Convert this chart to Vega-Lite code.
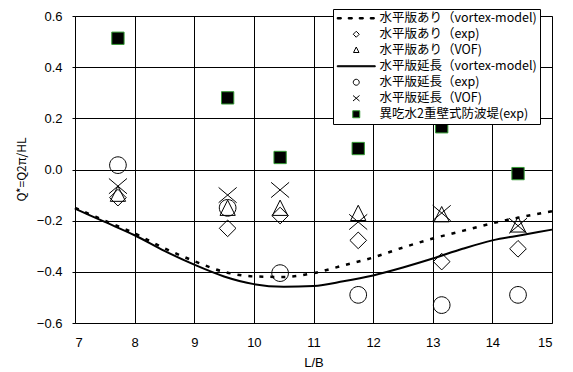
{
  "$schema": "https://vega.github.io/schema/vega-lite/v6.json",
  "width": 477,
  "height": 307,
  "autosize": {"type": "none"},
  "padding": {"left": 75, "top": 16, "right": 21, "bottom": 49},
  "background": "white",
  "config": {
    "view": {"stroke": "#808080", "strokeWidth": 1},
    "axis": {
      "grid": true,
      "gridColor": "#000",
      "gridWidth": 1,
      "domain": false,
      "labelFont": "Liberation Sans",
      "labelFontSize": 13,
      "labelColor": "#000",
      "titleFont": "Liberation Sans",
      "titleFontSize": 13,
      "titleFontWeight": "normal",
      "titleColor": "#000"
    },
    "legend": {
      "orient": "none",
      "legendX": 258,
      "legendY": -7,
      "padding": 3,
      "strokeColor": "#000",
      "fillColor": "#fff",
      "labelFont": "Noto Sans CJK JP",
      "labelFontSize": 12.5,
      "labelColor": "#000",
      "symbolSize": 100,
      "symbolOffset": 14,
      "labelOffset": 17,
      "rowPadding": 3,
      "symbolStrokeWidth": 1,
      "labelLimit": 300,
      "cornerRadius": 0
    }
  },
  "datasets": {
    "lines": [
      {"series": "水平版あり（vortex-model)", "LB": 7, "Q": -0.15},
      {"series": "水平版あり（vortex-model)", "LB": 7.5, "Q": -0.2},
      {"series": "水平版あり（vortex-model)", "LB": 8, "Q": -0.25},
      {"series": "水平版あり（vortex-model)", "LB": 8.5, "Q": -0.308},
      {"series": "水平版あり（vortex-model)", "LB": 9, "Q": -0.358},
      {"series": "水平版あり（vortex-model)", "LB": 9.5, "Q": -0.4},
      {"series": "水平版あり（vortex-model)", "LB": 10, "Q": -0.418},
      {"series": "水平版あり（vortex-model)", "LB": 10.5, "Q": -0.42},
      {"series": "水平版あり（vortex-model)", "LB": 11, "Q": -0.405},
      {"series": "水平版あり（vortex-model)", "LB": 11.5, "Q": -0.375},
      {"series": "水平版あり（vortex-model)", "LB": 12, "Q": -0.344},
      {"series": "水平版あり（vortex-model)", "LB": 12.5, "Q": -0.305},
      {"series": "水平版あり（vortex-model)", "LB": 13, "Q": -0.27},
      {"series": "水平版あり（vortex-model)", "LB": 13.5, "Q": -0.24},
      {"series": "水平版あり（vortex-model)", "LB": 14, "Q": -0.21},
      {"series": "水平版あり（vortex-model)", "LB": 14.5, "Q": -0.185},
      {"series": "水平版あり（vortex-model)", "LB": 15, "Q": -0.163},
      {"series": "水平版延長（vortex-model)", "LB": 7, "Q": -0.153},
      {"series": "水平版延長（vortex-model)", "LB": 7.5, "Q": -0.205},
      {"series": "水平版延長（vortex-model)", "LB": 8, "Q": -0.257},
      {"series": "水平版延長（vortex-model)", "LB": 8.5, "Q": -0.318},
      {"series": "水平版延長（vortex-model)", "LB": 9, "Q": -0.372},
      {"series": "水平版延長（vortex-model)", "LB": 9.5, "Q": -0.418},
      {"series": "水平版延長（vortex-model)", "LB": 10, "Q": -0.448},
      {"series": "水平版延長（vortex-model)", "LB": 10.5, "Q": -0.458},
      {"series": "水平版延長（vortex-model)", "LB": 11, "Q": -0.455},
      {"series": "水平版延長（vortex-model)", "LB": 11.5, "Q": -0.437},
      {"series": "水平版延長（vortex-model)", "LB": 12, "Q": -0.414},
      {"series": "水平版延長（vortex-model)", "LB": 12.5, "Q": -0.383},
      {"series": "水平版延長（vortex-model)", "LB": 13, "Q": -0.348},
      {"series": "水平版延長（vortex-model)", "LB": 13.5, "Q": -0.31},
      {"series": "水平版延長（vortex-model)", "LB": 14, "Q": -0.277},
      {"series": "水平版延長（vortex-model)", "LB": 14.5, "Q": -0.256},
      {"series": "水平版延長（vortex-model)", "LB": 15, "Q": -0.235}
    ],
    "points": [
      {"series": "水平版あり（exp)", "LB": 7.72, "Q": -0.11},
      {"series": "水平版あり（exp)", "LB": 9.56, "Q": -0.23},
      {"series": "水平版あり（exp)", "LB": 10.44, "Q": -0.18},
      {"series": "水平版あり（exp)", "LB": 11.75, "Q": -0.277},
      {"series": "水平版あり（exp)", "LB": 13.15, "Q": -0.36},
      {"series": "水平版あり（exp)", "LB": 14.43, "Q": -0.31},
      {"series": "水平版あり（VOF)", "LB": 7.72, "Q": -0.1},
      {"series": "水平版あり（VOF)", "LB": 9.56, "Q": -0.155},
      {"series": "水平版あり（VOF)", "LB": 10.44, "Q": -0.155},
      {"series": "水平版あり（VOF)", "LB": 11.75, "Q": -0.175},
      {"series": "水平版あり（VOF)", "LB": 13.15, "Q": -0.18},
      {"series": "水平版あり（VOF)", "LB": 14.43, "Q": -0.22},
      {"series": "水平版延長（exp)", "LB": 7.72, "Q": 0.017},
      {"series": "水平版延長（exp)", "LB": 9.56, "Q": -0.15},
      {"series": "水平版延長（exp)", "LB": 10.44, "Q": -0.405},
      {"series": "水平版延長（exp)", "LB": 11.75, "Q": -0.49},
      {"series": "水平版延長（exp)", "LB": 13.15, "Q": -0.53},
      {"series": "水平版延長（exp)", "LB": 14.43, "Q": -0.49},
      {"series": "水平版延長（VOF)", "LB": 7.72, "Q": -0.065},
      {"series": "水平版延長（VOF)", "LB": 9.56, "Q": -0.1},
      {"series": "水平版延長（VOF)", "LB": 10.44, "Q": -0.08},
      {"series": "水平版延長（VOF)", "LB": 11.75, "Q": -0.205},
      {"series": "水平版延長（VOF)", "LB": 13.15, "Q": -0.17},
      {"series": "水平版延長（VOF)", "LB": 14.43, "Q": -0.22}
    ],
    "squares": [
      {"series": "異吃水2重壁式防波堤(exp)", "LB": 7.72, "Q": 0.513},
      {"series": "異吃水2重壁式防波堤(exp)", "LB": 9.56, "Q": 0.28},
      {"series": "異吃水2重壁式防波堤(exp)", "LB": 10.44, "Q": 0.047},
      {"series": "異吃水2重壁式防波堤(exp)", "LB": 11.75, "Q": 0.082},
      {"series": "異吃水2重壁式防波堤(exp)", "LB": 13.15, "Q": 0.167},
      {"series": "異吃水2重壁式防波堤(exp)", "LB": 14.43, "Q": -0.016}
    ]
  },
  "encoding": {
    "x": {
      "field": "LB", "type": "quantitative",
      "scale": {"domain": [7, 15], "nice": false},
      "axis": {"values": [7, 8, 9, 10, 11, 12, 13, 14, 15], "tickSize": 0, "labelPadding": 13, "title": "L/B", "titleY": 39, "titleBaseline": "middle"}
    },
    "y": {
      "field": "Q", "type": "quantitative",
      "scale": {"domain": [-0.6, 0.6], "nice": false},
      "axis": {"values": [-0.6, -0.4, -0.2, 0, 0.2, 0.4, 0.6], "format": ".1f", "tickSize": 3, "tickColor": "#000", "labelPadding": 10, "title": "Q*=Q2π/HL", "titleFont": "Noto Sans CJK JP", "titleFontSize": 12, "titleX": -54, "titleY": 153, "titleBaseline": "middle", "titleAlign": "center"}
    }
  },
  "layer": [
    {
      "data": {"name": "lines"},
      "transform": [{"filter": "datum.series === '水平版あり（vortex-model)'"}],
      "mark": {"type": "line", "color": "#000", "strokeWidth": 2.5, "strokeDash": [4, 7], "interpolate": "monotone"},
      "encoding": {}
    },
    {
      "data": {"name": "lines"},
      "transform": [{"filter": "datum.series === '水平版延長（vortex-model)'"}],
      "mark": {"type": "line", "color": "#000", "strokeWidth": 2, "interpolate": "monotone"},
      "encoding": {}
    },
    {
      "data": {"values": [{"zero": 0}]},
      "mark": {"type": "rule", "color": "#000", "strokeWidth": 2.5},
      "encoding": {"x": {"datum": 7}, "x2": {"datum": 15}, "y": {"field": "zero", "type": "quantitative"}}
    },
    {
      "data": {"name": "points"},
      "mark": {"type": "point", "size": 771, "strokeWidth": 1, "opacity": 1},
      "encoding": {
        "shape": {"field": "series", "type": "nominal", "legend": {"title": null},
          "scale": {
            "domain": ["水平版あり（vortex-model)", "水平版あり（exp)", "水平版あり（VOF)", "水平版延長（vortex-model)", "水平版延長（exp)", "水平版延長（VOF)", "異吃水2重壁式防波堤(exp)"],
            "range": [
              "M-3.8,-0.15H-3,V0.15H-3.8Z M-1.6,-0.15H-0.8V0.15H-1.6Z M0.6,-0.15H1.4V0.15H0.6Z M2.8,-0.15H3.6V0.15H2.8Z",
              "M0,-0.6L0.6,0L0,0.6L-0.6,0Z",
              "M0,-0.65L0.55,0.45L-0.55,0.45Z",
              "M-3.8,-0.1H3.8V0.1H-3.8Z",
              "M0.6,0A0.6,0.6,0,1,1,-0.6,0A0.6,0.6,0,1,1,0.6,0Z",
              "M-0.65,-0.55L0.65,0.55M-0.65,0.55L0.65,-0.55",
              "M-0.7,-0.7H0.7V0.7H-0.7Z"
            ]
          }
        },
        "fill": {"field": "series", "type": "nominal", "legend": {"title": null},
          "scale": {
            "domain": ["水平版あり（vortex-model)", "水平版あり（exp)", "水平版あり（VOF)", "水平版延長（vortex-model)", "水平版延長（exp)", "水平版延長（VOF)", "異吃水2重壁式防波堤(exp)"],
            "range": ["#000", "transparent", "transparent", "#000", "transparent", "transparent", "#000"]
          }
        },
        "stroke": {"field": "series", "type": "nominal", "legend": {"title": null},
          "scale": {
            "domain": ["水平版あり（vortex-model)", "水平版あり（exp)", "水平版あり（VOF)", "水平版延長（vortex-model)", "水平版延長（exp)", "水平版延長（VOF)", "異吃水2重壁式防波堤(exp)"],
            "range": ["#000", "#000", "#000", "#000", "#000", "#000", "#339933"]
          }
        }
      }
    },
    {
      "data": {"name": "squares"},
      "mark": {"type": "point", "size": 309, "strokeWidth": 1, "opacity": 1},
      "encoding": {
        "shape": {"field": "series", "type": "nominal", "legend": {"title": null}},
        "fill": {"field": "series", "type": "nominal", "legend": {"title": null}},
        "stroke": {"field": "series", "type": "nominal", "legend": {"title": null}}
      }
    }
  ]
}
